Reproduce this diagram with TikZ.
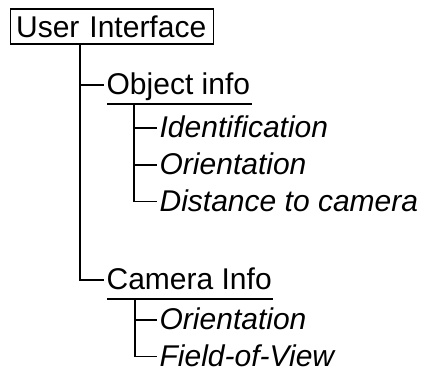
\documentclass[tikz,border=0pt]{standalone}
\usepackage{fontspec}
\setmainfont{Liberation Sans}
\begin{document}
\begin{tikzpicture}[x=1pt,y=1pt,
  line width=1.3pt,
  every node/.style={font=\fontsize{30}{34}\selectfont},
  lbl/.style={anchor=base west, text height=27pt, text depth=7pt, inner ysep=1.5pt, inner xsep=2pt},
  sub/.style={lbl, font=\fontsize{30}{34}\selectfont\itshape},
  head/.style={draw, line width=1.3pt, text width=192pt, align=left, inner xsep=5.5pt, inner ysep=0pt, text height=28.4pt, text depth=6.6pt, anchor=north west}
]
\useasboundingbox (0,0) rectangle (426,372);
% root
\node[head] (ui) at (10,363.7) {User Interface};
% level 1
\node[lbl] (oi) at (104,277) {Object info};
\node[lbl] (ci) at (104,82) {Camera Info};
% level 2 under object info
\node[sub] (ident) at (157,234) {Identification};
\node[sub] (orient1) at (157,197) {Orientation};
\node[sub] (dist) at (157,160.3) {Distance to camera};
% level 2 under camera info
\node[sub] (orient2) at (157,42) {Orientation};
\node[sub] (fov) at (157,5.3) {Field-of-View};
% underlines
\draw ([xshift=3pt]oi.south west) -- ([xshift=-1pt]oi.south east);
\draw ([xshift=3pt]ci.south west) -- ([xshift=-1pt]ci.south east);
% trunk
\coordinate (trunk) at (80,328.5);
\draw (trunk) |- (oi.west);
\draw (trunk) |- (ci.west);
% object info branches
\coordinate (osub) at (134,268.5);
\draw (osub) |- (ident.west);
\draw (osub) |- (orient1.west);
\draw (osub) |- (dist.west);
% camera info branches
\coordinate (csub) at (135,73.5);
\draw (csub) |- (orient2.west);
\draw (csub) |- (fov.west);
\end{tikzpicture}
\end{document}
